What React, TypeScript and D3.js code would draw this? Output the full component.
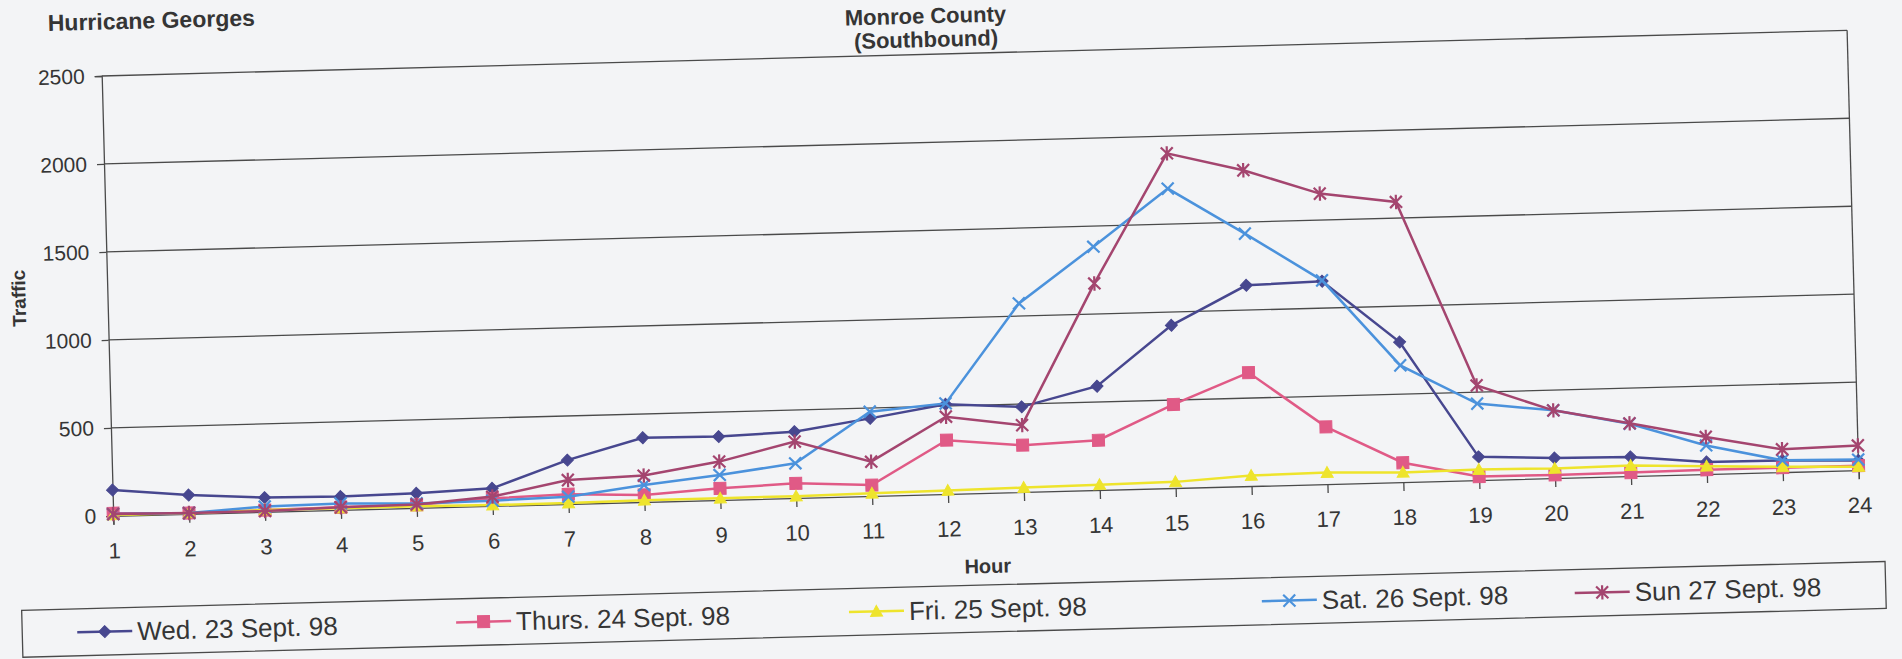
import React, { useEffect, useRef } from "react";
import * as d3 from "d3";

// hourly southbound traffic, Monroe County
const hours = [1, 2, 3, 4, 5, 6, 7, 8, 9, 10, 11, 12, 13, 14, 15, 16, 17, 18, 19, 20, 21, 22, 23, 24];
const yTicks = [0, 500, 1000, 1500, 2000, 2500];

const wed = [147, 107, 81, 76, 83, 100, 249, 365, 360, 377, 441, 510, 484, 590, 925, 1141, 1153, 796, 132, 114, 109, 69, 67, 55];
const thu = [15, 5, 10, 15, 17, 43, 55, 40, 66, 83, 62, 306, 266, 283, 475, 645, 325, 110, 20, 18, 20, 25, 25, 25];
const fri = [5, 5, 10, 10, 10, 5, 5, 10, 10, 10, 15, 20, 25, 30, 35, 60, 65, 55, 60, 55, 60, 45, 30, 20];
const sat = [10, 5, 30, 37, 25, 30, 41, 96, 142, 197, 479, 515, 1072, 1383, 1702, 1435, 1158, 663, 435, 385, 298, 163, 67, 60];
const sun = [10, 5, 5, 15, 20, 53, 136, 150, 218, 320, 195, 439, 380, 1174, 1902, 1795, 1651, 1592, 538, 385, 300, 211, 130, 140];

const seriesNames = ["Wed. 23 Sept. 98", "Thurs. 24 Sept. 98", "Fri. 25 Sept. 98", "Sat. 26 Sept. 98", "Sun 27 Sept. 98"];
const seriesColors = ["#47478f", "#e05a86", "#eee42c", "#4b92dc", "#a4456f"];
const seriesMarkers = ["diamond", "square", "triangle", "x", "star"];

function markerPath(type: string, s: number) {
  if (type === "diamond") return `M0,${-s}L${s},0L0,${s}L${-s},0Z`;
  if (type === "square") return `M${-s},${-s}h${2 * s}v${2 * s}h${-2 * s}Z`;
  if (type === "triangle") return `M0,${-s}L${s},${s * 0.8}L${-s},${s * 0.8}Z`;
  if (type === "x") return `M${-s},${-s}L${s},${s}M${-s},${s}L${s},${-s}`;
  return `M${-s},${-s}L${s},${s}M${-s},${s}L${s},${-s}M0,${-s * 1.2}V${s * 1.2}`;
}

function drawMarker(sel: any, type: string, color: string, s: number) {
  const filled = type === "diamond" || type === "square" || type === "triangle";
  sel.attr("d", markerPath(type, s))
    .attr("fill", filled ? color : "none")
    .attr("stroke", color)
    .attr("stroke-width", filled ? 1 : 2.2);
}

export default function App() {
  const ref = useRef<SVGSVGElement>(null);

  useEffect(() => {
    const W = 1902, H = 659;
    const plotW = 1746, plotH = 440;
    const font = "'Liberation Sans', Arial, sans-serif";
    const textColor = "#353535";
    const gridColor = "#4a4a4a";

    const svg = d3.select(ref.current);
    svg.selectAll("*").remove();
    svg.append("rect").attr("width", W).attr("height", H).attr("fill", "#f3f4f6");

    // the scanned page is tilted a little
    const g = svg.append("g").attr("transform", "translate(101.7,76) rotate(-1.5)");

    const x = d3.scalePoint<number>().domain(hours).range([0, plotW]);
    const y = d3.scaleLinear().domain([0, 2500]).range([plotH, 0]);

    // gridlines + frame
    g.append("g").selectAll("line")
      .data(yTicks.filter(t => t > 0))
      .enter().append("line")
      .attr("x1", 0).attr("x2", plotW)
      .attr("y1", d => y(d)).attr("y2", d => y(d))
      .attr("stroke", gridColor).attr("stroke-width", 1.3);
    g.append("line")
      .attr("x1", plotW).attr("x2", plotW).attr("y1", 0).attr("y2", plotH)
      .attr("stroke", gridColor).attr("stroke-width", 1.3);

    // y axis
    const yAxis = d3.axisLeft(y).tickValues(yTicks).tickFormat(d3.format("d")).tickSize(7).tickPadding(10);
    const ya = g.append("g").call(yAxis);
    ya.select(".domain").attr("stroke", gridColor).attr("stroke-width", 1.3);
    ya.selectAll(".tick line").attr("stroke", gridColor).attr("stroke-width", 1.3);
    ya.selectAll("text")
      .attr("font-family", font).attr("font-size", "21px").attr("fill", textColor);

    // x axis
    const xAxis = d3.axisBottom(x).tickSize(9).tickPadding(18);
    const xa = g.append("g").attr("transform", "translate(0," + plotH + ")").call(xAxis);
    xa.select(".domain").attr("stroke", gridColor).attr("stroke-width", 1.3);
    xa.selectAll(".tick line").attr("stroke", gridColor).attr("stroke-width", 1.3);
    xa.selectAll("text")
      .attr("font-family", font).attr("font-size", "22px").attr("fill", textColor);

    // series
    const allSeries = [wed, thu, fri, sat, sun];
    const line = d3.line<number>()
      .x((d, i) => x(hours[i]) as number)
      .y(d => y(d));

    allSeries.forEach((vals, si) => {
      const color = seriesColors[si];
      g.append("path")
        .attr("d", line(vals))
        .attr("fill", "none")
        .attr("stroke", color)
        .attr("stroke-width", 2.5);
      g.append("g").selectAll("path")
        .data(vals)
        .enter().append("path")
        .attr("transform", (d, i) => "translate(" + x(hours[i]) + "," + y(d) + ")")
        .call(drawMarker, seriesMarkers[si], color, 6);
    });

    // titles
    g.append("text")
      .attr("x", -52.5).attr("y", -46.4)
      .attr("font-family", font).attr("font-size", "23px").attr("font-weight", "bold")
      .attr("fill", textColor)
      .text("Hurricane Georges");
    g.append("text")
      .attr("x", 825).attr("y", -31).attr("text-anchor", "middle")
      .attr("font-family", font).attr("font-size", "22px").attr("font-weight", "bold")
      .attr("fill", textColor)
      .text("Monroe County");
    g.append("text")
      .attr("x", 825).attr("y", -7.4).attr("text-anchor", "middle")
      .attr("font-family", font).attr("font-size", "22px").attr("font-weight", "bold")
      .attr("fill", textColor)
      .text("(Southbound)");

    // axis titles
    g.append("text")
      .attr("transform", "translate(-82,220) rotate(-90)")
      .attr("text-anchor", "middle")
      .attr("font-family", font).attr("font-size", "19px").attr("font-weight", "bold")
      .attr("fill", textColor)
      .text("Traffic");
    g.append("text")
      .attr("x", plotW / 2).attr("y", 520).attr("text-anchor", "middle")
      .attr("font-family", font).attr("font-size", "20px").attr("font-weight", "bold")
      .attr("fill", textColor)
      .text("Hour");

    // legend
    const legY = 532, legH = 47;
    g.append("rect")
      .attr("x", -94).attr("y", legY).attr("width", 1864).attr("height", legH)
      .attr("fill", "none").attr("stroke", gridColor).attr("stroke-width", 1.3);
    const legX = [-39, 340, 733, 1146, 1459];
    seriesNames.forEach((name, si) => {
      const item = g.append("g").attr("transform", "translate(" + legX[si] + "," + (legY + legH / 2) + ")");
      item.append("line")
        .attr("x1", 0).attr("x2", 55)
        .attr("stroke", seriesColors[si]).attr("stroke-width", 2.5);
      item.append("path")
        .attr("transform", "translate(27.5,0)")
        .call(drawMarker, seriesMarkers[si], seriesColors[si], 6);
      item.append("text")
        .attr("x", 60).attr("dy", "0.36em")
        .attr("font-family", font).attr("font-size", "26px")
        .attr("fill", textColor)
        .text(name);
    });
  }, []);

  return (
    <svg ref={ref} width={1902} height={659}
      style={{ position: "absolute", left: 0, top: 0, display: "block" }} />
  );
}
